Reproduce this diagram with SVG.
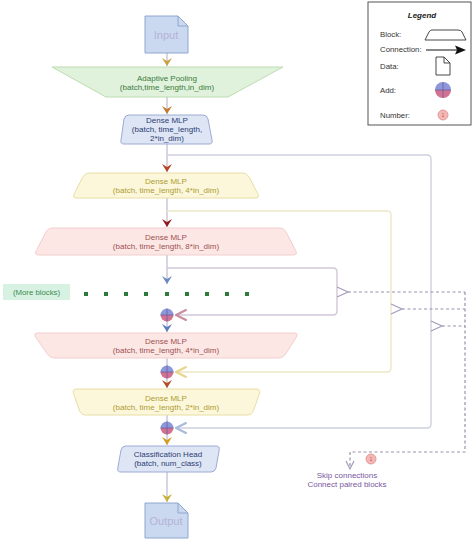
<svg xmlns="http://www.w3.org/2000/svg" width="474" height="541" viewBox="0 0 474 541">
<defs>
<style>
text{font-family:"Liberation Sans",Arial,sans-serif;text-anchor:middle}
.t{font-size:8px}
.axis{fill:none;stroke:#b4aac4;stroke-width:1}
.skip{fill:none;stroke-width:1.4}
.dash{fill:none;stroke:#9a92ac;stroke-width:1.2;stroke-dasharray:3 2.5}
.mk{fill:none;stroke:#a49cbc;stroke-width:1.2}
.open{fill:none;stroke-width:2;stroke-linecap:round;stroke-linejoin:round}
.doc{fill:#cad9ef;stroke:#8ea6cf;stroke-width:1}
.leg{font-size:7.8px;fill:#333;text-anchor:start}
.addT{fill:#8c98da}
.addB{fill:#d27292}
.addX{stroke:#6e5ca0;stroke-width:0.8}
</style>
<path id="ah" d="M-5,-8 L0,0 L5,-8 L0,-5 Z"/>
<g id="add">
<path class="addT" d="M-6.5,0 A6.5,6.5 0 0 1 6.5,0 Z"/>
<path class="addB" d="M-6.5,0 A6.5,6.5 0 0 0 6.5,0 Z"/>
<path class="addX" d="M-6.5,0 H6.5 M0,-6.5 V6.5"/>
</g>
</defs>
<rect width="474" height="541" fill="#ffffff"/>

<g id="connectors">
<path class="axis" d="M167,53 V66 M167,97 V114 M167,144 V172 M167,198 V227 M167,255 V284 M167,321 V332 M167,358 V366 M167,378 V388 M167,415 V422 M167,434 V445 M167,472 V502"/>
<path class="skip" stroke="#cdd0e0" d="M167,155 H427 Q431,155 431,159 V424 Q431,428 427,428 H177"/>
<path class="skip" stroke="#ede7c6" d="M167,211 H387 Q391,211 391,215 V368 Q391,372 387,372 H177"/>
<path class="skip" stroke="#d2c8d8" d="M167,268 H333 Q337,268 337,272 V311 Q337,315 333,315 H177"/>
<path class="open" stroke="#a9b8dc" d="M186,423 L176,428 L186,433"/>
<path class="open" stroke="#e4d68e" d="M186,367 L176,372 L186,377"/>
<path class="open" stroke="#c98c9c" d="M186,310 L176,315 L186,320"/>
<use href="#ah" x="167" y="66" fill="#c9a042"/>
<use href="#ah" x="167" y="114" fill="#c07a32"/>
<use href="#ah" x="167" y="172" fill="#b24424"/>
<use href="#ah" x="167" y="227" fill="#921a1a"/>
<use href="#ah" x="167" y="284" fill="#6a88c4"/>
<use href="#ah" x="167" y="332" fill="#5c7cc2"/>
<use href="#ah" x="167" y="388" fill="#b24c22"/>
<use href="#ah" x="167" y="445" fill="#d49c22"/>
<use href="#ah" x="167" y="502" fill="#c8b032"/>
<path class="dash" d="M348,292 H465 M402,309 H465 M442,326 H465 M465,292 V452 H350 V467"/>
<path class="mk" d="M337,287 L348,292 L337,297 M391,304 L402,309 L391,314 M431,321 L442,326 L431,331"/>
<path class="mk" d="M346,461 L350,469 L354,461"/>
</g>

<g id="input">
<path class="doc" d="M145,16 H178 L188,26 V53 H145 Z"/>
<path fill="none" stroke="#8ea6cf" d="M178,16 V26 H188"/>
<text x="166" y="39" font-size="11" fill="#b4b2d8">Input</text>
</g>

<g id="adaptive-pooling">
<path d="M52,67 H283 L228,97 H106 Z" fill="#e0f1dc" stroke="#bcdcb2" stroke-width="1"/>
<text class="t" x="167" y="81" fill="#3c7c3c">Adaptive Pooling</text>
<text class="t" x="167" y="90" fill="#3c7c3c">(batch,time_length,in_dim)</text>
</g>

<g id="mlp1">
<path d="M129,115 H203 Q207,115 208,119 L212,140 Q213,144 209,144 H124 Q120,144 121,140 L124,119 Q125,115 129,115 Z" fill="#dee5f5" stroke="#9cacd2"/>
<text class="t" x="167" y="123" fill="#2c3c72">Dense MLP</text>
<text class="t" x="167" y="132" fill="#2c3c72">(batch, time_length,</text>
<text class="t" x="167" y="141" fill="#2c3c72">2*in_dim)</text>
</g>

<g id="mlp2">
<path d="M90,173 H242 Q247,173 249.3,177.4 L257.7,193.6 Q260,198 255,198 H77 Q72,198 74.3,193.6 L82.7,177.4 Q85,173 90,173 Z" fill="#fcf7da" stroke="#e8dea4"/>
<text class="t" x="166" y="184" fill="#ac9c34">Dense MLP</text>
<text class="t" x="166" y="193" fill="#ac9c34">(batch, time_length, 4*in_dim)</text>
</g>

<g id="mlp3">
<path d="M53,228 H279 Q284,228 286.3,232.4 L295.7,250.6 Q298,255 293,255 H39 Q34,255 36.3,250.6 L45.7,232.4 Q48,228 53,228 Z" fill="#fce7e5" stroke="#f2cece"/>
<text class="t" x="166" y="240" fill="#9c5252">Dense MLP</text>
<text class="t" x="166" y="249" fill="#9c5252">(batch, time_length, 8*in_dim)</text>
</g>

<g id="more-blocks">
<rect x="3" y="284" width="67" height="16" fill="#d7f2e3"/>
<text x="36.5" y="295" font-size="7.8px" fill="#3c8a4c">(More blocks)</text>
<g fill="#2e7a3a">
<rect x="84" y="292" width="4" height="4"/><rect x="104" y="292" width="4" height="4"/><rect x="124" y="292" width="4" height="4"/>
<rect x="144" y="292" width="4" height="4"/><rect x="165" y="292" width="4" height="4"/><rect x="185" y="292" width="4" height="4"/>
<rect x="205" y="292" width="4" height="4"/><rect x="225" y="292" width="4" height="4"/><rect x="245" y="292" width="4" height="4"/>
</g>
</g>

<g id="add1"><use href="#add" x="167" y="315"/></g>

<g id="mlp4">
<path d="M38,333 H294 Q299,333 296.2,337.2 L285.8,353.8 Q283,358 278,358 H55 Q50,358 47.2,353.8 L35.8,337.2 Q33,333 38,333 Z" fill="#fce7e5" stroke="#f2cece"/>
<text class="t" x="166" y="344" fill="#9c5252">Dense MLP</text>
<text class="t" x="166" y="353" fill="#9c5252">(batch, time_length, 4*in_dim)</text>
</g>

<g id="add2"><use href="#add" x="167" y="372"/></g>

<g id="mlp5">
<path d="M77,389 H256 Q261,389 259.4,393.7 L253.6,410.3 Q252,415 247,415 H86 Q81,415 79.4,410.3 L73.6,393.7 Q72,389 77,389 Z" fill="#fcf7da" stroke="#e8dea4"/>
<text class="t" x="166" y="401" fill="#ac9c34">Dense MLP</text>
<text class="t" x="166" y="410" fill="#ac9c34">(batch, time_length, 2*in_dim)</text>
</g>

<g id="add3"><use href="#add" x="167" y="428"/></g>

<g id="classification-head">
<path d="M126,446 H216 Q220,446 219.2,450 L216,468 Q215,472 211,472 H121 Q117,472 117.8,468 L121,450 Q122,446 126,446 Z" fill="#dee6f6" stroke="#9cacd2"/>
<text class="t" x="168" y="457" fill="#2c3c72">Classification Head</text>
<text class="t" x="168" y="466" fill="#2c3c72">(batch, num_class)</text>
</g>

<g id="output">
<path class="doc" d="M145,503 H178 L188,513 V538 H145 Z"/>
<path fill="none" stroke="#8ea6cf" d="M178,503 V513 H188"/>
<text x="166" y="525" font-size="11" fill="#b4b2d8">Output</text>
</g>

<g id="skip-note">
<circle cx="371" cy="459" r="5" fill="#f5b6b6" stroke="#e08a8a" stroke-width="0.8"/>
<text x="371" y="461" font-size="4.5px" fill="#b05050">1</text>
<text x="347" y="478" font-size="8px" fill="#7a58a0">Skip connections</text>
<text x="347" y="486.5" font-size="8px" fill="#7a58a0">Connect paired blocks</text>
</g>

<g id="legend">
<rect x="368" y="2" width="103" height="123" fill="#ffffff" stroke="#555" stroke-width="1"/>
<text x="422" y="18" font-size="8px" font-weight="bold" font-style="italic" fill="#222">Legend</text>
<text class="leg" x="380" y="37">Block:</text>
<path d="M432,30 H458 Q461,30 462,32 L466,40 H425 L429,32 Q430,30 432,30 Z" fill="none" stroke="#333" stroke-width="0.9"/>
<text class="leg" x="380" y="52">Connection:</text>
<path d="M426,50 H457" stroke="#111" stroke-width="1"/>
<path d="M455,45.5 L466,50 L455,54.5 L457,50 Z" fill="#111"/>
<text class="leg" x="380" y="69">Data:</text>
<path d="M436,57 H444 L450,63 V75 H436 Z" fill="#fff" stroke="#333" stroke-width="0.9"/>
<path d="M444,57 V63 H450" fill="none" stroke="#333" stroke-width="0.9"/>
<text class="leg" x="380" y="93">Add:</text>
<path class="addT" d="M435,90 A8,8 0 0 1 451,90 Z"/>
<path class="addB" d="M435,90 A8,8 0 0 0 451,90 Z"/>
<path class="addX" d="M435,90 H451 M443,82 V98"/>
<text class="leg" x="380" y="118">Number:</text>
<circle cx="443" cy="115" r="5" fill="#f5b6b6" stroke="#e08a8a" stroke-width="0.8"/>
<text x="443" y="117" font-size="4.5px" fill="#b05050">1</text>
</g>
</svg>
